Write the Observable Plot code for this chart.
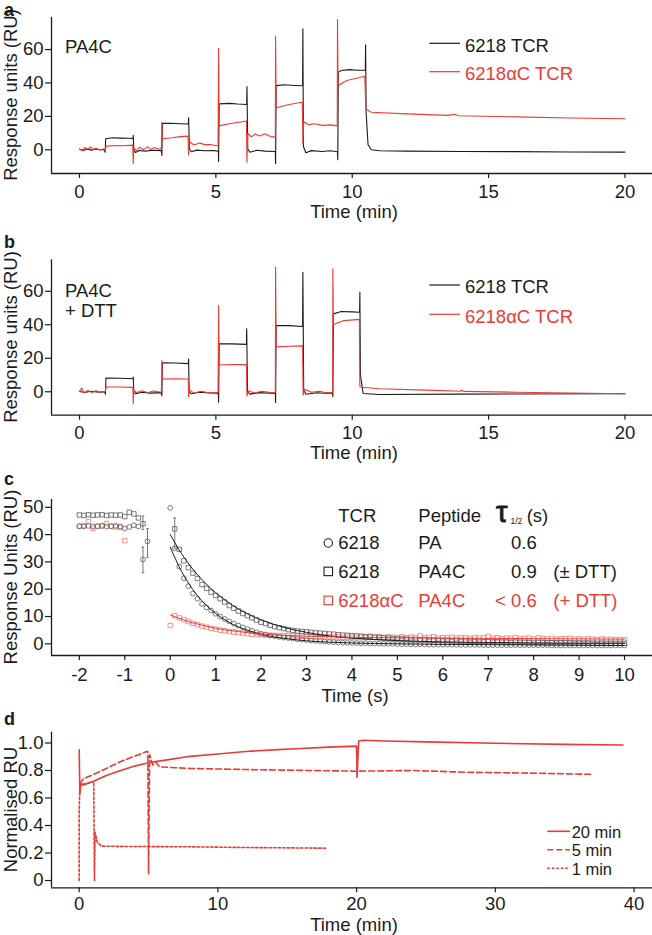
<!DOCTYPE html>
<html><head><meta charset="utf-8">
<script src="https://cdn.jsdelivr.net/npm/d3@7"></script>
<script src="https://cdn.jsdelivr.net/npm/@observablehq/plot@0.6"></script>
<style>
body{margin:0;background:#fff;}
#chart{width:652px;}
#chart svg{display:block;}
</style></head><body><div id="chart"></div>
<script>
// ---------- Panel a : PA4C sensorgrams (time min, RU) ----------
const sprA_6218 = [[0,0.3],[0.15,-0.3],[0.3,0.4],[0.45,-0.2],[0.6,0.5],[0.75,0],[0.9,0.2],[0.94,-1.5],[0.96,6.6],[1.2,7.2],[1.5,7.0],[1.8,6.9],[1.96,6.8],[1.97,8.6],[1.99,0.2],[2.05,-1.6],[2.2,-0.4],[2.4,-0.8],[2.7,-0.3],[3.0,-0.5],[3.02,-3.4],[3.04,15.8],[3.3,15.9],[3.7,15.6],[3.99,15.4],[4.0,19.2],[4.03,0.5],[4.1,-1.2],[4.3,-0.2],[4.6,-0.6],[4.9,-0.4],[5.09,-0.8],[5.1,-7],[5.12,27.5],[5.5,27.8],[5.8,27.4],[6.13,27.1],[6.14,37.9],[6.17,0.5],[6.25,-1.5],[6.5,-0.3],[6.8,-0.8],[7.18,-1.0],[7.19,-8.4],[7.21,38.4],[7.5,38.9],[7.9,38.5],[8.18,38.3],[8.19,72.5],[8.21,2],[8.3,-1.8],[8.5,-0.5],[8.9,-1.0],[9.2,-0.6],[9.46,-1.2],[9.47,-6],[9.49,46.5],[9.6,47.5],[9.9,48.0],[10.2,47.6],[10.48,47.6],[10.49,62.9],[10.51,22],[10.58,3],[10.7,0.0],[11,-0.6],[12,-0.8],[14,-1.0],[16,-1.1],[18,-1.3],[20,-1.4]];
const sprA_6218aC = [[0,0.5],[0.1,-0.6],[0.2,1.4],[0.3,0.2],[0.4,1.8],[0.5,0.1],[0.6,0.9],[0.75,-0.2],[0.9,0.6],[0.95,-0.8],[0.97,2.2],[1.3,2.6],[1.6,2.4],[1.95,2.8],[1.97,-8.2],[1.99,1.2],[2.1,-0.6],[2.2,1.5],[2.35,0.1],[2.5,1.9],[2.6,0.2],[2.75,1.3],[2.9,0.3],[3.0,0.9],[3.02,16.5],[3.04,6.6],[3.4,7.2],[3.7,7.9],[3.98,8.2],[4.0,-3],[4.03,4.8],[4.2,2.9],[4.4,4.0],[4.6,3.1],[4.8,3.2],[5.08,2.3],[5.1,60.8],[5.12,14.3],[5.5,15.6],[5.9,16.6],[6.12,17.2],[6.14,-7.4],[6.17,9.8],[6.3,7.8],[6.45,9.5],[6.6,8.2],[6.8,9.6],[7.0,7.9],[7.18,7.6],[7.19,67.9],[7.21,25.0],[7.6,26.8],[8.0,28.0],[8.17,28.5],[8.19,3.6],[8.22,16.8],[8.4,15.0],[8.6,15.6],[8.9,14.6],[9.2,14.9],[9.45,14.3],[9.46,78],[9.48,38.5],[9.8,41.5],[10.2,43],[10.46,44],[10.5,24.5],[10.7,22.5],[12,21.5],[13.5,20.6],[13.75,21.3],[13.9,20.4],[16,19.7],[18,19.0],[20,18.6]];
// ---------- Panel b : PA4C + DTT ----------
const sprB_6218 = [[0,0.2],[0.2,-0.4],[0.4,0.3],[0.7,-0.2],[0.93,0],[0.95,-1.5],[0.97,8.2],[1.5,8.1],[1.96,7.8],[1.97,8.8],[1.99,0.5],[2.05,-1.2],[2.3,-0.3],[2.6,-0.8],[3.0,-0.5],[3.02,-2.5],[3.04,17.3],[3.5,17.2],[3.99,16.8],[4.0,19.5],[4.02,0.3],[4.1,-1.2],[4.4,-0.3],[4.8,-0.7],[5.09,-0.8],[5.1,-6.2],[5.12,28.7],[5.6,28.6],[6.12,28.3],[6.13,37.6],[6.16,0.3],[6.25,-1.4],[6.6,-0.5],[7.0,-0.9],[7.18,-0.8],[7.19,-6.4],[7.21,39.6],[7.7,39.5],[8.18,39.0],[8.19,71.4],[8.22,1],[8.3,-1.5],[8.7,-0.6],[9.0,-0.9],[9.28,-0.7],[9.29,-3],[9.31,46.5],[9.6,47.9],[10.0,47.7],[10.27,47.5],[10.28,59.5],[10.3,10],[10.4,-1.0],[11,-1.6],[14,-1.4],[20,-1.2]];
const sprB_6218aC = [[0,0.3],[0.08,2.2],[0.15,-0.6],[0.3,0.8],[0.45,-0.4],[0.6,0.6],[0.8,-0.3],[0.95,0.2],[0.97,2.8],[1.5,2.8],[1.96,2.6],[1.97,-7.2],[1.99,0.8],[2.1,-0.5],[2.3,0.6],[2.5,-0.6],[2.7,0.5],[3.0,-0.3],[3.02,18.7],[3.04,7.6],[3.5,7.8],[3.99,7.6],[4.0,-3.0],[4.04,1.0],[4.2,-0.8],[4.45,0.3],[4.7,-0.5],[5.08,-0.3],[5.1,51.5],[5.12,16.0],[5.6,16.3],[6.12,16.2],[6.14,-2.5],[6.2,0.6],[6.4,-0.7],[6.7,0.3],[7.0,-0.5],[7.18,-0.3],[7.19,74.4],[7.21,26.8],[7.7,27.2],[8.18,27.4],[8.2,-2.0],[8.25,1.5],[8.5,-0.3],[8.8,0.3],[9.0,-0.4],[9.28,-0.5],[9.29,73.4],[9.31,40.2],[9.7,42.5],[10.26,43.2],[10.28,3],[10.35,2.7],[11,1.8],[13,0.8],[13.95,0.3],[14.0,0.9],[14.1,0.2],[16,-0.3],[20,-1.2]];
const legendAB = ["6218 TCR", "6218\u03B1C TCR"];

// ---------- Panel c : dissociation (time s, RU) ----------
const cPreTimes = [-2.0,-1.9,-1.8,-1.7,-1.6,-1.5,-1.4,-1.3,-1.2,-1.1,-1.0,-0.9,-0.8,-0.7,-0.6,-0.5];
const sqPre   = [47.2,47.0,47.3,47.1,47.2,47.3,47.0,47.2,47.1,47.2,46.6,48.2,47.6,46.1,44.0];
const circPre = [43.1,43.0,43.2,43.0,43.1,43.2,43.0,43.1,43.2,43.0,42.2,42.8,43.4,43.0,30.9,37.5];
const redPre  = [43.0,43.3,44.8,42.3,43.0,43.2,44.1,43.0,42.8,42.6,37.8];
// post-injection samples, every 0.1 s starting at t = 0.0 (circles, red) / 0.1 (squares)
const sqPost = [42.1,34.6,30.4,27.9,25.9,23.9,21.7,20.3,18.9,17.7,
  16.5,15.3,14.0,13.0,12.0,11.1,10.3,9.5,8.7,7.9,
  7.4,6.8,6.3,5.9,5.6,5.2,4.9,4.7,4.5,4.4,
  4.2,4.0,3.9,3.8,3.6,3.5,3.3,3.2,3.1,3.0,
  2.9,2.8,2.6,2.5,2.4,2.3,2.2,2.1,1.9,1.8,
  1.8,1.7,1.6,1.6,1.5,1.5,1.4,1.3,1.3,1.2,
  1.2,1.1,1.1,1.0,1.0,0.9,0.9,0.9,0.8,0.8,
  0.8,0.7,0.7,0.7,0.6,0.6,0.6,0.6,0.5,0.5,
  0.5,0.5,0.4,0.4,0.4,0.4,0.4,0.3,0.3,0.3,
  0.3,0.3,0.2,0.2,0.2,0.2,0.2,0.2,0.2,0.2];
const circPost = [49.8,35.0,28.3,24.0,21.1,18.4,16.5,14.6,13.3,12.2,
  11.0,10.0,9.1,8.2,7.4,6.7,6.0,5.4,4.8,4.2,
  3.7,3.4,3.0,2.8,2.5,2.3,2.1,1.9,1.7,1.5,
  1.4,1.2,1.1,1.0,0.8,0.7,0.6,0.5,0.4,0.4,
  0.3,0.3,0.2,0.2,0.1,0.1,0.1,0.0,0.0,0.0,
  -0.1,-0.1,-0.1,-0.2,-0.2,-0.2,-0.2,-0.3,-0.3,-0.3,
  -0.3,-0.3,-0.3,-0.4,-0.4,-0.4,-0.4,-0.4,-0.4,-0.5,
  -0.5,-0.5,-0.5,-0.5,-0.5,-0.5,-0.5,-0.5,-0.5,-0.5,
  -0.5,-0.5,-0.5,-0.5,-0.6,-0.6,-0.6,-0.6,-0.6,-0.6,
  -0.6,-0.6,-0.6,-0.6,-0.6,-0.6,-0.6,-0.6,-0.6,-0.6,-0.6];
const redPost = [6.7,10.3,9.5,8.8,8.2,7.5,7.0,6.5,6.1,5.7,
  5.4,5.0,4.8,4.5,4.3,4.1,3.9,3.7,3.5,3.4,
  3.3,3.2,3.1,3.1,3.0,3.0,2.9,2.9,2.8,2.8,
  2.7,2.7,2.6,2.6,2.6,2.5,2.5,2.5,2.4,2.4,
  2.4,2.3,2.5,2.3,2.8,2.4,2.6,2.2,2.5,2.4,
  2.3,2.6,2.2,2.5,2.3,2.9,2.2,2.4,2.6,2.1,
  2.3,2.2,2.4,2.1,2.3,2.2,2.0,2.3,2.1,2.2,
  2.7,2.0,2.2,1.9,2.1,2.0,2.3,1.9,2.0,2.1,
  1.8,2.2,1.9,1.8,2.0,1.7,1.9,1.8,2.0,1.7,
  1.8,1.6,1.8,1.7,1.5,1.8,1.6,1.7,1.5,1.6,1.5];
// error bars [time, low, high]
const sqErr = [[-0.6,41.8,46.8],[0.1,35.0,46.1]];
const circErr = [[-0.6,26.0,35.4],[-0.5,31.7,42.2]];
// exponential fits
const fitTimes = [0,0.25,0.5,0.75,1,1.25,1.5,1.75,2,2.5,3,3.5,4,5,6,7,8,10];
const fitPA4C = [40.0,33.0,27.3,22.6,18.7,15.5,12.8,10.6,8.8,6.0,4.2,2.9,2.1,1.2,0.7,0.5,0.3,0.2];
const fitPA   = [35.4,26.5,19.8,14.8,11.1,8.3,6.2,4.7,3.5,2.0,1.1,0.6,0.3,0.0,-0.2,-0.3,-0.4,-0.6];
const fitAlphaC = [10.6,9.0,7.7,6.6,5.7,5.0,4.5,4.0,3.6,3.1,2.8,2.6,2.4,2.2,2.1,2.0,1.9,1.7];
const legendC = {
  header: ["TCR", "Peptide"],
  tcr: ["6218", "6218", "6218\u03B1C"],
  peptide: ["PA", "PA4C", "PA4C"],
  half: ["0.6", "0.9", "< 0.6"],
  note: ["", "(\u00B1 DTT)", "(+ DTT)"]
};

// ---------- Panel d : normalised RU (time min) ----------
const norm20 = [[0,0.95],[0.05,0.63],[0.12,0.70],[0.3,0.695],[1,0.72],[2,0.765],[3,0.80],[4,0.832],[5,0.856],[5.15,0.86],[6,0.872],[8,0.903],[10,0.92],[12,0.938],[14,0.95],[16,0.96],[18,0.97],[20.0,0.977],[20.03,0.75],[20.15,1.015],[20.5,1.02],[22,1.015],[25,1.008],[30,0.998],[35,0.99],[39.2,0.985]];
const norm5 = [[0.05,0.70],[0.3,0.74],[1,0.77],[2,0.817],[3,0.865],[4,0.905],[4.95,0.94],[5.0,0.05],[5.08,0.915],[5.3,0.84],[5.5,0.865],[5.8,0.826],[8,0.815],[12,0.807],[20,0.795],[24,0.80],[28,0.787],[33,0.78],[37,0.772]];
const norm1 = [[0,0],[0,0.5],[0.05,0.70],[0.5,0.705],[1.05,0.72],[1.1,0.0],[1.15,0.35],[1.3,0.28],[1.6,0.25],[3,0.248],[8,0.245],[12,0.24],[17.8,0.235]];
const legendD = ["20 min", "5 min", "1 min"];

// ---------- styling ----------
const FONT = '"Liberation Sans", Arial, Helvetica, sans-serif';
const FS = 18.5;
const BLACK = "#1b1b1b", RED = "#ec3a35", GRAY = "#5c5c5c", PINK = "#f07a75";
const NS = "http://www.w3.org/2000/svg";

function overlay(items) {
  return () => {
    const g = document.createElementNS(NS, "g");
    for (const it of items) {
      let el;
      if (it.type === "line") {
        el = document.createElementNS(NS, "line");
        el.setAttribute("x1", it.x1); el.setAttribute("x2", it.x2);
        el.setAttribute("y1", it.y1); el.setAttribute("y2", it.y2);
        el.setAttribute("stroke", it.stroke || BLACK);
        el.setAttribute("stroke-width", it.width || 1.2);
        if (it.dash) el.setAttribute("stroke-dasharray", it.dash);
      } else if (it.type === "circle") {
        el = document.createElementNS(NS, "circle");
        el.setAttribute("cx", it.x); el.setAttribute("cy", it.y); el.setAttribute("r", it.r);
        el.setAttribute("fill", "none"); el.setAttribute("stroke", it.stroke || BLACK);
        el.setAttribute("stroke-width", 1.1);
      } else if (it.type === "square") {
        el = document.createElementNS(NS, "rect");
        el.setAttribute("x", it.x - it.s / 2); el.setAttribute("y", it.y - it.s / 2);
        el.setAttribute("width", it.s); el.setAttribute("height", it.s);
        el.setAttribute("fill", "none"); el.setAttribute("stroke", it.stroke || BLACK);
        el.setAttribute("stroke-width", 1.1);
      } else {
        el = document.createElementNS(NS, "text");
        el.setAttribute("x", it.x); el.setAttribute("y", it.y);
        el.setAttribute("font-size", it.size || FS);
        el.setAttribute("font-family", FONT);
        if (it.weight) el.setAttribute("font-weight", it.weight);
        if (it.strokeW) { el.setAttribute("stroke", it.fill || BLACK); el.setAttribute("stroke-width", it.strokeW); }
        el.setAttribute("fill", it.fill || BLACK);
        el.setAttribute("text-anchor", it.anchor || "start");
        if (it.rotate) el.setAttribute("transform", `rotate(${it.rotate},${it.x},${it.y})`);
        el.textContent = it.text;
      }
      g.appendChild(el);
    }
    return g;
  };
}

function frameMarks(xd, yd, xt, yt, xPad, xFmt, yFmt) {
  return [
    Plot.axisX({ticks: xt, tickSize: 5, tickPadding: xPad, tickFormat: xFmt || (d => String(d)), label: null, strokeWidth: 1.2}),
    Plot.axisY({ticks: yt, tickSize: 6, tickPadding: 2, tickFormat: yFmt || (d => String(d)), label: null, strokeWidth: 1.2}),
    Plot.ruleX([xd[0]], {stroke: BLACK, strokeWidth: 1.3}),
    Plot.ruleY([yd[0]], {stroke: BLACK, strokeWidth: 1.3})
  ];
}

function base(height, mt, mb, xd, yd, marks) {
  return Plot.plot({
    width: 652, height, marginLeft: 51, marginRight: 0, marginTop: mt, marginBottom: mb,
    x: {domain: xd}, y: {domain: yd},
    style: {fontFamily: FONT, fontSize: FS + "px", color: BLACK, background: "white", overflow: "visible"},
    marks
  });
}

const chart = document.getElementById("chart");
const YT_X = 17;

// Panel a
{
  const xd = [-1.027, 21.01], yd = [-14.2, 79.2];
  const p = base(230, 17, 57, xd, yd, [
    ...frameMarks(xd, yd, [0,5,10,15,20], [0,20,40,60], 6),
    Plot.line(sprA_6218, {x: d => d[0], y: d => d[1], stroke: BLACK, strokeWidth: 1.1, clip: true}),
    Plot.line(sprA_6218aC, {x: d => d[0], y: d => d[1], stroke: RED, strokeWidth: 1.1, clip: true}),
    overlay([
      {text: "a", x: 4, y: 15.5, weight: "bold", size: 18},
      {text: "Response units (RU)", x: YT_X, y: 95, anchor: "middle", rotate: -90},
      {text: "Time (min)", x: 354, y: 218, anchor: "middle"},
      {text: "PA4C", x: 65, y: 53.3},
      {type: "line", x1: 429.3, x2: 460, y1: 43.3, y2: 43.3, stroke: BLACK},
      {text: legendAB[0], x: 465, y: 51.7},
      {type: "line", x1: 429.3, x2: 460, y1: 71.7, y2: 71.7, stroke: RED},
      {text: legendAB[1], x: 465, y: 80, fill: RED}
    ])
  ]);
  chart.appendChild(p);
}
// Panel b
{
  const xd = [-1.027, 21.01], yd = [-14.0, 78.8];
  const p = base(240, 29.3, 55.3, xd, yd, [
    ...frameMarks(xd, yd, [0,5,10,15,20], [0,20,40,60], 6),
    Plot.line(sprB_6218, {x: d => d[0], y: d => d[1], stroke: BLACK, strokeWidth: 1.1, clip: true}),
    Plot.line(sprB_6218aC, {x: d => d[0], y: d => d[1], stroke: RED, strokeWidth: 1.1, clip: true}),
    overlay([
      {text: "b", x: 4, y: 18, weight: "bold", size: 18},
      {text: "Response units (RU)", x: YT_X, y: 107, anchor: "middle", rotate: -90},
      {text: "Time (min)", x: 354, y: 229, anchor: "middle"},
      {text: "PA4C", x: 65, y: 66.7},
      {text: "+ DTT", x: 65, y: 86.7},
      {type: "line", x1: 429.3, x2: 460, y1: 55, y2: 55, stroke: BLACK},
      {text: legendAB[0], x: 465, y: 63.3},
      {type: "line", x1: 429.3, x2: 460, y1: 84.3, y2: 84.3, stroke: RED},
      {text: legendAB[1], x: 465, y: 92.7, fill: RED}
    ])
  ]);
  chart.appendChild(p);
}
// Panel c
{
  const xd = [-2.613, 10.616], yd = [-4.28, 52.86];
  const post = (arr, t0) => arr.map((v, i) => ({t: Math.round((t0 + i * 0.1) * 10) / 10, v}));
  const pre = arr => arr.map((v, i) => ({t: cPreTimes[i], v}));
  const sq = [...pre(sqPre), ...post(sqPost, 0.1)];
  const ci = [...pre(circPre), ...post(circPost, 0)];
  const rd = [...pre(redPre), ...post(redPost, 0)];
  const fit = vals => fitTimes.map((t, i) => ({t, v: vals[i]}));
  const errs = [...sqErr, ...circErr];
  const legendRows = [{y: 79.3, c: BLACK, sym: "circle"}, {y: 107.7, c: BLACK, sym: "square"}, {y: 136.7, c: RED, sym: "square"}];
  const legItems = [
    {text: "c", x: 4, y: 15, weight: "bold", size: 18},
    {text: "Response Units (RU)", x: YT_X, y: 107, anchor: "middle", rotate: -90},
    {text: "Time (s)", x: 355, y: 232, anchor: "middle"},
    {text: legendC.header[0], x: 338.3, y: 51.7},
    {text: legendC.header[1], x: 418.3, y: 51.7},
    {text: "\u03C4", x: 496, y: 51.7, size: 29, strokeW: 0.9},
    {text: "1/2", x: 510.5, y: 53.5, size: 8.5},
    {text: "(s)", x: 526.7, y: 51.7}
  ];
  legendRows.forEach((r, i) => {
    legItems.push(r.sym === "circle"
      ? {type: "circle", x: 328.3, y: r.y - 6.3, r: 4.2, stroke: r.c}
      : {type: "square", x: 328.3, y: r.y - 6.3, s: 8.5, stroke: r.c});
    legItems.push({text: legendC.tcr[i], x: 338.3, y: r.y, fill: r.c});
    legItems.push({text: legendC.peptide[i], x: 418.3, y: r.y, fill: r.c});
    legItems.push({text: legendC.half[i], x: 536.7, y: r.y, fill: r.c, anchor: "end"});
    if (legendC.note[i]) legItems.push({text: legendC.note[i], x: 553.3, y: r.y, fill: r.c});
  });
  const p = base(242, 29, 57, xd, yd, [
    ...frameMarks(xd, yd, [-2,-1,0,1,2,3,4,5,6,7,8,9,10], [0,10,20,30,40,50], 7),
    Plot.ruleX(errs, {x: d => d[0], y1: d => d[1], y2: d => d[2], stroke: "#777", strokeWidth: 1}),
    Plot.link(errs, {x1: d => d[0] - 0.03, x2: d => d[0] + 0.03, y1: d => d[1], y2: d => d[1], stroke: "#777", strokeWidth: 1}),
    Plot.link(errs, {x1: d => d[0] - 0.03, x2: d => d[0] + 0.03, y1: d => d[2], y2: d => d[2], stroke: "#777", strokeWidth: 1}),
    Plot.dot(rd, {x: "t", y: "v", r: 2.5, symbol: "square", stroke: PINK, strokeWidth: 0.8, fill: "none"}),
    Plot.dot(ci, {x: "t", y: "v", r: 2.4, stroke: GRAY, strokeWidth: 0.8, fill: "none"}),
    Plot.dot(sq, {x: "t", y: "v", r: 2.5, symbol: "square", stroke: GRAY, strokeWidth: 0.8, fill: "none"}),
    Plot.line(fit(fitPA4C), {x: "t", y: "v", stroke: BLACK, strokeWidth: 1, curve: "monotone-x"}),
    Plot.line(fit(fitPA), {x: "t", y: "v", stroke: BLACK, strokeWidth: 1, curve: "monotone-x"}),
    Plot.line(fit(fitAlphaC), {x: "t", y: "v", stroke: RED, strokeWidth: 1, curve: "monotone-x"}),
    overlay(legItems)
  ]);
  chart.appendChild(p);
}
// Panel d
{
  const xd = [-1.995, 41.33], yd = [-0.053, 1.0785];
  const p = base(223, 19.7, 47.7, xd, yd, [
    ...frameMarks(xd, yd, [0,10,20,30,40], [0,0.2,0.4,0.6,0.8,1.0], 4.5, null, d => d === 0 ? "0" : d.toFixed(1)),
    Plot.line(norm1, {x: d => d[0], y: d => d[1], stroke: RED, strokeWidth: 1.6, strokeDasharray: "2.5,2"}),
    Plot.line(norm5, {x: d => d[0], y: d => d[1], stroke: RED, strokeWidth: 1.6, strokeDasharray: "6,3"}),
    Plot.line(norm20, {x: d => d[0], y: d => d[1], stroke: RED, strokeWidth: 1.6}),
    overlay([
      {text: "d", x: 4, y: 13, weight: "bold", size: 18},
      {text: "Normalised RU", x: YT_X, y: 97.5, anchor: "middle", rotate: -90},
      {text: "Time (min)", x: 354, y: 219.3, anchor: "middle"},
      {type: "line", x1: 547.3, x2: 570, y1: 119.3, y2: 119.3, stroke: RED, width: 1.6},
      {type: "line", x1: 547.3, x2: 570, y1: 137.8, y2: 137.8, stroke: RED, width: 1.6, dash: "6,3"},
      {type: "line", x1: 547.3, x2: 570, y1: 156.3, y2: 156.3, stroke: RED, width: 1.6, dash: "2.5,2"},
      {text: legendD[0], x: 571.7, y: 125.5, size: 16.5},
      {text: legendD[1], x: 571.7, y: 144, size: 16.5},
      {text: legendD[2], x: 571.7, y: 162.5, size: 16.5}
    ])
  ]);
  chart.appendChild(p);
}
</script></body></html>
